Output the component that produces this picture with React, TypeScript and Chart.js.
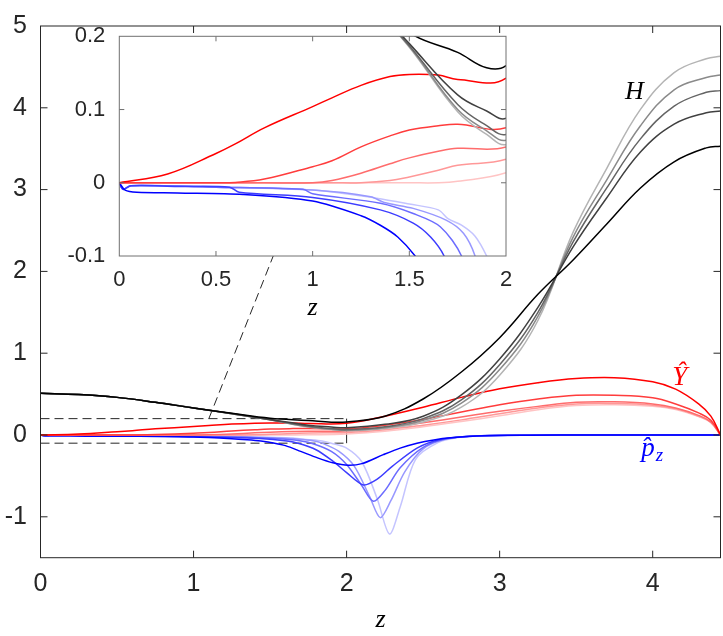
import React, { useEffect, useRef } from "react";
import { Chart, registerables } from "chart.js";
Chart.register(...registerables);

// ---------- data ----------
const Z_MAX = 4.443;

const Z_H = [0, 0.25, 0.5, 0.75, 1.0, 1.25, 1.5, 1.75, 1.9, 2.0, 2.25, 2.5, 2.75, 3.0, 3.25, 3.48, 3.7, 3.92, 4.14, 4.35, 4.443];
const H_1 = [0.51, 0.495, 0.46, 0.40, 0.33, 0.265, 0.205, 0.178, 0.157, 0.16, 0.23, 0.44, 0.77, 1.19, 1.72, 2.14, 2.58, 3.02, 3.34, 3.51, 3.53];
const H_2 = [0.51, 0.495, 0.46, 0.40, 0.33, 0.262, 0.19, 0.12, 0.098, 0.088, 0.13, 0.23, 0.49, 0.93, 1.56, 2.3, 2.9, 3.46, 3.8, 3.94, 3.96];
const H_3 = [0.51, 0.495, 0.46, 0.40, 0.33, 0.26, 0.187, 0.107, 0.078, 0.066, 0.1, 0.2, 0.43, 0.86, 1.5, 2.36, 3.02, 3.62, 4.02, 4.19, 4.21];
const H_4 = [0.51, 0.495, 0.46, 0.40, 0.33, 0.26, 0.186, 0.1, 0.071, 0.058, 0.09, 0.18, 0.39, 0.8, 1.45, 2.42, 3.12, 3.78, 4.22, 4.37, 4.4];
const H_5 = [0.51, 0.495, 0.46, 0.40, 0.33, 0.26, 0.185, 0.097, 0.066, 0.052, 0.08, 0.16, 0.34, 0.73, 1.4, 2.48, 3.26, 3.98, 4.43, 4.6, 4.63];

const Z_Y = [0, 0.25, 0.5, 0.6, 0.75, 1.0, 1.1, 1.25, 1.4, 1.5, 1.65, 1.75, 2.0, 2.25, 2.5, 2.75, 3.0, 3.25, 3.5, 3.75, 4.0, 4.15, 4.3, 4.38, 4.443];
const Y_1 = [0, 0.012, 0.04, 0.053, 0.075, 0.104, 0.116, 0.133, 0.145, 0.148, 0.147, 0.141, 0.143, 0.23, 0.34, 0.46, 0.565, 0.64, 0.69, 0.7, 0.65, 0.56, 0.38, 0.23, 0];
const Y_2 = [0, 0, 0, 0.0005, 0.005, 0.022, 0.03, 0.049, 0.064, 0.072, 0.078, 0.08, 0.075, 0.12, 0.19, 0.28, 0.37, 0.44, 0.485, 0.485, 0.455, 0.38, 0.27, 0.18, 0];
const Y_3 = [0, 0, 0, 0, 0, 0, 0.003, 0.013, 0.026, 0.034, 0.043, 0.047, 0.049, 0.085, 0.15, 0.22, 0.29, 0.35, 0.4, 0.405, 0.38, 0.33, 0.24, 0.16, 0];
const Y_4 = [0, 0, 0, 0, 0, 0, 0, 0, 0.003, 0.008, 0.017, 0.024, 0.032, 0.065, 0.12, 0.185, 0.26, 0.33, 0.38, 0.385, 0.365, 0.32, 0.23, 0.155, 0];
const Y_5 = [0, 0, 0, 0, 0, 0, 0, 0, 0, 0, 0, 0.002, 0.0136, 0.045, 0.1, 0.165, 0.235, 0.31, 0.36, 0.37, 0.35, 0.31, 0.225, 0.15, 0];

const PZ_1_Z = [0, 0.03, 0.09, 0.3, 0.64, 1.0, 1.25, 1.35, 1.44, 1.53, 1.6, 1.7, 1.81, 1.91, 2.01, 2.1, 2.24, 2.35, 2.46, 2.57, 2.68, 2.9, 3.2, 3.6, 4.443];
const PZ_1 = [0, -0.01, -0.013, -0.014, -0.016, -0.025, -0.045, -0.058, -0.074, -0.1, -0.13, -0.2, -0.28, -0.34, -0.37, -0.35, -0.24, -0.16, -0.1, -0.06, -0.035, -0.01, -0.003, 0, 0];
const PZ_2_Z = [0, 0.02, 0.06, 0.3, 0.57, 0.62, 1.0, 1.35, 1.52, 1.61, 1.68, 1.8, 1.91, 2.0, 2.11, 2.2, 2.3, 2.46, 2.6, 2.8, 3.1, 3.6, 4.443];
const PZ_2 = [0, -0.009, -0.004, -0.005, -0.006, -0.013, -0.02, -0.037, -0.055, -0.074, -0.1, -0.18, -0.32, -0.46, -0.61, -0.54, -0.38, -0.16, -0.06, -0.015, -0.003, 0, 0];
const PZ_3_Z = [0, 0.02, 0.06, 0.5, 0.95, 1.0, 1.35, 1.52, 1.66, 1.77, 1.9, 2.0, 2.1, 2.175, 2.25, 2.35, 2.5, 2.65, 2.85, 3.1, 3.6, 4.443];
const PZ_3 = [0, -0.009, -0.004, -0.006, -0.009, -0.015, -0.028, -0.042, -0.06, -0.1, -0.2, -0.36, -0.62, -0.81, -0.68, -0.4, -0.15, -0.045, -0.01, -0.002, 0, 0];
const PZ_4_Z = [0, 0.02, 0.06, 0.5, 1.0, 1.3, 1.37, 1.52, 1.69, 1.78, 1.84, 1.95, 2.05, 2.15, 2.22, 2.29, 2.38, 2.5, 2.65, 2.85, 3.1, 3.6, 4.443];
const PZ_4 = [0, -0.009, -0.004, -0.006, -0.01, -0.019, -0.027, -0.035, -0.051, -0.069, -0.1, -0.2, -0.38, -0.75, -1.01, -0.8, -0.45, -0.17, -0.05, -0.01, -0.002, 0, 0];
const PZ_5_Z = [0, 0.02, 0.06, 0.5, 1.0, 1.33, 1.5, 1.65, 1.7, 1.77, 1.84, 1.9, 2.0, 2.1, 2.2, 2.28, 2.35, 2.45, 2.6, 2.75, 2.95, 3.2, 3.6, 4.443];
const PZ_5 = [0, -0.009, -0.004, -0.006, -0.01, -0.021, -0.029, -0.037, -0.049, -0.058, -0.073, -0.1, -0.16, -0.33, -0.78, -1.21, -0.88, -0.3, -0.09, -0.025, -0.005, -0.001, 0, 0];

// zoom window shown in the inset, and its connector line (data coordinates)
const INSET_Z = [0, 2];
const INSET_V = [-0.1, 0.2];
const CONNECTOR_Z = [1.1, 1.54];
const CONNECTOR_V = [0.2, 2.28];

const MAIN_X_TICKS = [0, 1, 2, 3, 4];
const MAIN_Y_RANGE = [-1.5, 5];

// ---------- styles ----------
const AXIS = "#262626";
const SANS = '"Liberation Sans", Arial, Helvetica, sans-serif';
const SERIF = '"Liberation Serif", "Times New Roman", serif';
const H_COLORS = ["#000000", "#404040", "#646464", "#8a8a8a", "#b4b4b4"];
const Y_COLORS = ["#ff0000", "#ff3c3c", "#ff6c6c", "#ff9898", "#ffc4c4"];
const P_COLORS = ["#0000ff", "#3c3cff", "#6c6cff", "#9898ff", "#c4c4ff"];

const pts = (xs: number[], ys: number[]) => xs.map((x, i) => ({ x, y: ys[i] }));

function curveDatasets() {
  const ds: any[] = [];
  const H = [H_1, H_2, H_3, H_4, H_5];
  const Y = [Y_1, Y_2, Y_3, Y_4, Y_5];
  const P = [[PZ_1_Z, PZ_1], [PZ_2_Z, PZ_2], [PZ_3_Z, PZ_3], [PZ_4_Z, PZ_4], [PZ_5_Z, PZ_5]];
  // first dataset is drawn on top in Chart.js
  H.forEach((h, i) => ds.push(line(pts(Z_H, h), H_COLORS[i], 0.4)));
  Y.forEach((y, i) => ds.push(line(pts(Z_Y, y), Y_COLORS[i], 0.4)));
  P.forEach(([z, p], i) => ds.push(line(pts(z, p), P_COLORS[i], 0.3)));
  return ds;
}

function line(data: any[], color: string, tension: number) {
  return {
    data,
    borderColor: color,
    borderWidth: 1.5,
    pointRadius: 0,
    fill: false,
    tension,
  };
}

function guide(data: any[], dashed: boolean) {
  return {
    data,
    borderColor: AXIS,
    borderWidth: 1,
    borderDash: dashed ? [9, 5] : [],
    pointRadius: 0,
    fill: false,
    tension: 0,
  };
}

function framePlugin(id: string, color: string, tickLen: number, extra?: (chart: any) => void, bg?: boolean) {
  return {
    id,
    beforeDraw(chart: any) {
      if (!bg) return;
      const { ctx, chartArea: a } = chart;
      ctx.save();
      ctx.fillStyle = "#ffffff";
      ctx.fillRect(a.left, a.top, a.right - a.left, a.bottom - a.top);
      ctx.restore();
    },
    afterDraw(chart: any) {
      const { ctx, chartArea: a, scales } = chart;
      ctx.save();
      ctx.strokeStyle = color;
      ctx.lineWidth = 1;
      ctx.setLineDash([]);
      ctx.strokeRect(a.left, a.top, a.right - a.left, a.bottom - a.top);
      ctx.beginPath();
      scales.x.ticks.forEach((t: any) => {
        const px = scales.x.getPixelForValue(t.value);
        if (px <= a.left + 1 || px >= a.right - 1) return;
        ctx.moveTo(px, a.bottom);
        ctx.lineTo(px, a.bottom - tickLen);
        ctx.moveTo(px, a.top);
        ctx.lineTo(px, a.top + tickLen);
      });
      scales.y.ticks.forEach((t: any) => {
        const py = scales.y.getPixelForValue(t.value);
        if (py <= a.top + 1 || py >= a.bottom - 1) return;
        ctx.moveTo(a.left, py);
        ctx.lineTo(a.left + tickLen, py);
        ctx.moveTo(a.right, py);
        ctx.lineTo(a.right - tickLen, py);
      });
      ctx.stroke();
      ctx.restore();
      if (extra) extra(chart);
    },
  };
}

function drawMainText(chart: any) {
  const { ctx, chartArea: a, scales } = chart;
  const X = (v: number) => scales.x.getPixelForValue(v);
  const Yp = (v: number) => scales.y.getPixelForValue(v);
  ctx.save();
  ctx.textBaseline = "alphabetic";
  ctx.textAlign = "center";
  ctx.fillStyle = "#000";
  ctx.font = `italic 26px ${SERIF}`;
  ctx.fillText("z", (a.left + a.right) / 2, a.bottom + 69);
  ctx.fillText("H", X(3.881), Yp(4.107));
  ctx.fillStyle = "#ff0000";
  ctx.font = `italic 27px ${SERIF}`;
  ctx.fillText("\u0176", X(4.177), Yp(0.61));
  ctx.fillStyle = "#0000ff";
  ctx.font = `italic 27px ${SERIF}`;
  const w1 = ctx.measureText("p\u0302").width;
  ctx.font = `italic 19px ${SERIF}`;
  const w2 = ctx.measureText("z").width;
  const cx = X(3.993);
  const by = Yp(-0.254);
  ctx.textAlign = "left";
  ctx.font = `italic 27px ${SERIF}`;
  ctx.fillText("p\u0302", cx - (w1 + w2) / 2, by);
  ctx.font = `italic 19px ${SERIF}`;
  ctx.fillText("z", cx - (w1 + w2) / 2 + w1 + 1, by + 5);
  ctx.restore();
}

function drawInsetText(chart: any) {
  const { ctx, chartArea: a } = chart;
  ctx.save();
  ctx.textBaseline = "alphabetic";
  ctx.textAlign = "center";
  ctx.fillStyle = "#000";
  ctx.font = `italic 26px ${SERIF}`;
  ctx.fillText("z", (a.left + a.right) / 2, a.bottom + 59);
  ctx.restore();
}

const fmt = (v: number) => String(Math.round(v * 10) / 10);

function mainConfig(): any {
  const ds = curveDatasets();
  ds.push(guide(pts([INSET_Z[0], INSET_Z[1]], [INSET_V[1], INSET_V[1]]), true));
  ds.push(guide(pts([INSET_Z[0], INSET_Z[1]], [INSET_V[0], INSET_V[0]]), true));
  ds.push(guide(pts([INSET_Z[1], INSET_Z[1]], [INSET_V[0], INSET_V[1]]), false));
  ds.push(guide(pts(CONNECTOR_Z, CONNECTOR_V), true));
  return {
    type: "line",
    data: { datasets: ds },
    options: {
      responsive: false,
      animation: false,
      events: [],
      layout: { padding: { left: 0, right: 2.5, top: 12, bottom: 0 } },
      plugins: { legend: { display: false }, tooltip: { enabled: false } },
      scales: {
        x: {
          type: "linear",
          min: 0,
          max: Z_MAX,
          afterFit: (s: any) => { s.height = 78.3; },
          afterBuildTicks: (s: any) => { s.ticks = MAIN_X_TICKS.map((v) => ({ value: v })); },
          grid: { display: false, drawTicks: false },
          border: { display: false },
          ticks: { padding: 14, color: AXIS, font: { family: SANS, size: 25, lineHeight: 1 }, callback: fmt, maxRotation: 0, autoSkip: false },
        },
        y: {
          type: "linear",
          min: MAIN_Y_RANGE[0],
          max: MAIN_Y_RANGE[1],
          afterFit: (s: any) => { s.width = 40.5; },
          grid: { display: false, drawTicks: false },
          border: { display: false },
          ticks: { stepSize: 1, includeBounds: false, padding: 13.5, color: AXIS, font: { family: SANS, size: 25, lineHeight: 1 }, callback: fmt },
        },
      },
    },
    plugins: [framePlugin("mainFrame", AXIS, 7, drawMainText, false)],
  };
}

function insetConfig(): any {
  return {
    type: "line",
    data: { datasets: curveDatasets() },
    options: {
      responsive: false,
      animation: false,
      events: [],
      layout: { padding: { left: 0, right: 217, top: 36.3, bottom: 0 } },
      plugins: { legend: { display: false }, tooltip: { enabled: false } },
      scales: {
        x: {
          type: "linear",
          min: INSET_Z[0],
          max: INSET_Z[1],
          afterFit: (s: any) => { s.height = 380; },
          grid: { display: false, drawTicks: false },
          border: { display: false },
          ticks: { stepSize: 0.5, includeBounds: false, padding: 13, color: AXIS, font: { family: SANS, size: 22, lineHeight: 1 }, callback: fmt, maxRotation: 0, autoSkip: false },
        },
        y: {
          type: "linear",
          min: INSET_V[0],
          max: INSET_V[1],
          afterFit: (s: any) => { s.width = 119.3; },
          grid: { display: false, drawTicks: false },
          border: { display: false },
          ticks: { stepSize: 0.1, includeBounds: false, padding: 14, color: AXIS, font: { family: SANS, size: 22, lineHeight: 1 }, callback: fmt },
        },
      },
    },
    plugins: [framePlugin("insetFrame", "#707070", 5, drawInsetText, true)],
  };
}

export default function App() {
  const mainRef = useRef<HTMLCanvasElement>(null);
  const insetRef = useRef<HTMLCanvasElement>(null);
  useEffect(() => {
    const main = new Chart(mainRef.current as HTMLCanvasElement, mainConfig());
    const inset = new Chart(insetRef.current as HTMLCanvasElement, insetConfig());
    return () => {
      main.destroy();
      inset.destroy();
    };
  }, []);
  const cs: React.CSSProperties = { position: "absolute", left: 0, top: 0, width: 723, height: 636 };
  return (
    <div style={{ position: "absolute", left: 0, top: 0, width: 723, height: 636, background: "#ffffff" }}>
      <canvas ref={mainRef} width={723} height={636} style={cs} />
      <canvas ref={insetRef} width={723} height={636} style={cs} />
    </div>
  );
}
